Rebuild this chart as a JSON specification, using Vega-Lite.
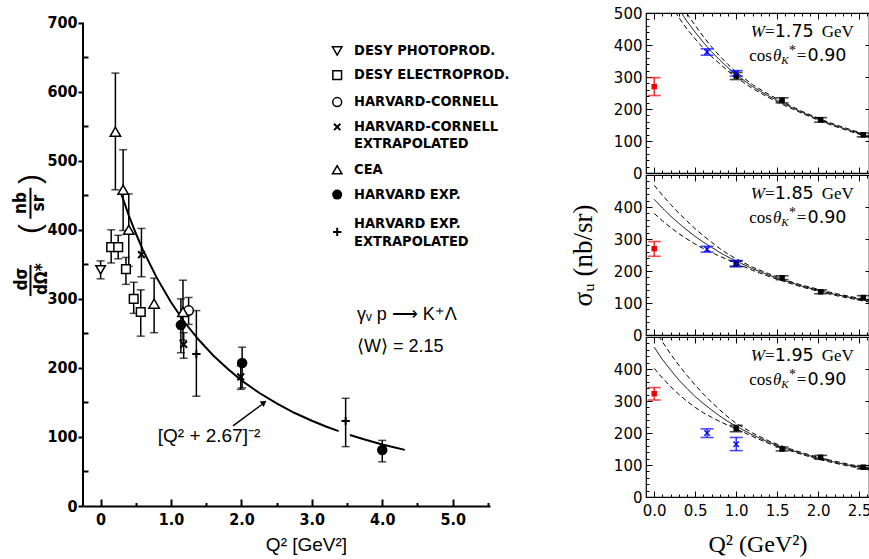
{
"$schema": "https://vega.github.io/schema/vega-lite/v6.json",
"background": "white",
"padding": {"left": 12, "top": 5, "right": 0, "bottom": 0},
"config": {
 "view": {"stroke": "black", "strokeWidth": 1.2},
 "axis": {"grid": false, "labelFlush": false, "labelOverlap": false, "domainColor": "black", "tickColor": "black", "labelColor": "black", "titleColor": "black"},
 "text": {"color": "black"}
},
"datasets": {
 "L": [
  {"s":"DP","q":0,"v":342,"lo":329,"hi":355},
  {"s":"DE","q":0.15,"v":375,"lo":352,"hi":400},
  {"s":"DE","q":0.25,"v":375,"lo":358,"hi":392},
  {"s":"DE","q":0.36,"v":343,"lo":321,"hi":360},
  {"s":"DE","q":0.47,"v":300,"lo":279,"hi":324},
  {"s":"DE","q":0.57,"v":281,"lo":246,"hi":313},
  {"s":"HC","q":1.25,"v":283,"lo":263,"hi":302},
  {"s":"HCX","q":0.58,"v":364,"lo":332,"hi":402},
  {"s":"HCX","q":1.18,"v":234,"lo":214,"hi":251},
  {"s":"HCX","q":1.99,"v":187,"lo":169,"hi":203},
  {"s":"CEA","q":0.21,"v":542,"lo":458,"hi":627},
  {"s":"CEA","q":0.32,"v":458,"lo":399,"hi":516},
  {"s":"CEA","q":0.40,"v":400,"lo":347,"hi":452},
  {"s":"CEA","q":0.76,"v":293,"lo":251,"hi":330},
  {"s":"CEA","q":1.17,"v":281,"lo":240,"hi":327},
  {"s":"HE","q":1.14,"v":262,"lo":222,"hi":300},
  {"s":"HE","q":2.01,"v":207,"lo":171,"hi":230},
  {"s":"HE","q":4.0,"v":81,"lo":64,"hi":95},
  {"s":"HEX","q":1.36,"v":220,"lo":159,"hi":283},
  {"s":"HEX","q":3.48,"v":123,"lo":86,"hi":156}
 ],
 "Lc": [
  {"seg":"a","q":0.28,"v":456},{"seg":"a","q":0.4,"v":421},{"seg":"a","q":0.5,"v":395},{"seg":"a","q":0.6,"v":371},
  {"seg":"a","q":0.8,"v":330},{"seg":"a","q":1.0,"v":295},{"seg":"a","q":1.2,"v":265},{"seg":"a","q":1.4,"v":240},
  {"seg":"a","q":1.6,"v":218},{"seg":"a","q":1.8,"v":199},{"seg":"a","q":2.0,"v":182},{"seg":"a","q":2.25,"v":164},
  {"seg":"a","q":2.5,"v":148.5},{"seg":"a","q":2.75,"v":135},{"seg":"a","q":3.0,"v":123.5},{"seg":"a","q":3.2,"v":115.2},
  {"seg":"a","q":3.38,"v":108.5},
  {"seg":"b","q":3.54,"v":102.9},{"seg":"b","q":3.75,"v":96.3},{"seg":"b","q":4.0,"v":89.2},{"seg":"b","q":4.15,"v":85.4},{"seg":"b","q":4.32,"v":81.3}
 ],
 "R1": [
  {"s":"r","q":0,"v":270,"lo":242,"hi":298},
  {"s":"k","q":1.0,"v":303,"lo":292,"hi":314},
  {"s":"k","q":1.56,"v":227,"lo":219,"hi":235},
  {"s":"k","q":2.03,"v":166,"lo":159,"hi":173},
  {"s":"k","q":2.55,"v":119,"lo":113,"hi":125},
  {"s":"b","q":0.645,"v":378,"lo":368,"hi":388},
  {"s":"b","q":1.0,"v":312,"lo":303,"hi":320}
 ],
 "R2": [
  {"s":"r","q":0,"v":270,"lo":246,"hi":292},
  {"s":"k","q":1.0,"v":223,"lo":215,"hi":231},
  {"s":"k","q":1.56,"v":179,"lo":173,"hi":185},
  {"s":"k","q":2.03,"v":135,"lo":129,"hi":141},
  {"s":"k","q":2.55,"v":117,"lo":111,"hi":123},
  {"s":"b","q":0.645,"v":268,"lo":259,"hi":277},
  {"s":"b","q":1.0,"v":223,"lo":213,"hi":233}
 ],
 "R3": [
  {"s":"r","q":0,"v":323,"lo":303,"hi":342},
  {"s":"k","q":1.0,"v":214,"lo":204,"hi":224},
  {"s":"k","q":1.56,"v":150,"lo":144,"hi":156},
  {"s":"k","q":2.03,"v":124,"lo":118,"hi":130},
  {"s":"k","q":2.55,"v":93,"lo":88,"hi":98},
  {"s":"b","q":0.645,"v":200,"lo":186,"hi":213},
  {"s":"b","q":1.0,"v":165,"lo":145,"hi":186}
 ],
 "C1": [
  {"k":"s","q":0.2,"v":555},{"k":"s","q":0.3,"v":513},{"k":"s","q":0.4,"v":474},{"k":"s","q":0.5,"v":440},{"k":"s","q":0.6,"v":408},{"k":"s","q":0.7,"v":379},{"k":"s","q":0.8,"v":353},{"k":"s","q":0.9,"v":329},{"k":"s","q":1.0,"v":307},{"k":"s","q":1.2,"v":270},{"k":"s","q":1.4,"v":240},{"k":"s","q":1.6,"v":214},{"k":"s","q":1.8,"v":190},{"k":"s","q":2.0,"v":168},{"k":"s","q":2.2,"v":149},{"k":"s","q":2.4,"v":132},{"k":"s","q":2.62,"v":115},
  {"k":"u","q":0.2,"v":585},{"k":"u","q":0.3,"v":540},{"k":"u","q":0.4,"v":498},{"k":"u","q":0.5,"v":461},{"k":"u","q":0.6,"v":426},{"k":"u","q":0.7,"v":394},{"k":"u","q":0.8,"v":365},{"k":"u","q":0.9,"v":339},{"k":"u","q":1.0,"v":315},{"k":"u","q":1.2,"v":276},{"k":"u","q":1.4,"v":245},{"k":"u","q":1.6,"v":218},{"k":"u","q":1.8,"v":193},{"k":"u","q":2.0,"v":171},{"k":"u","q":2.2,"v":152},{"k":"u","q":2.4,"v":135},{"k":"u","q":2.62,"v":118},
  {"k":"l","q":0.2,"v":525},{"k":"l","q":0.3,"v":486},{"k":"l","q":0.4,"v":450},{"k":"l","q":0.5,"v":419},{"k":"l","q":0.6,"v":390},{"k":"l","q":0.7,"v":364},{"k":"l","q":0.8,"v":341},{"k":"l","q":0.9,"v":319},{"k":"l","q":1.0,"v":299},{"k":"l","q":1.2,"v":264},{"k":"l","q":1.4,"v":235},{"k":"l","q":1.6,"v":210},{"k":"l","q":1.8,"v":187},{"k":"l","q":2.0,"v":165},{"k":"l","q":2.2,"v":146},{"k":"l","q":2.4,"v":129},{"k":"l","q":2.62,"v":112}
 ],
 "C2": [
  {"k":"s","q":0,"v":424},{"k":"s","q":0.1,"v":397},{"k":"s","q":0.2,"v":372},{"k":"s","q":0.3,"v":349},{"k":"s","q":0.4,"v":328},{"k":"s","q":0.5,"v":308},{"k":"s","q":0.6,"v":290},{"k":"s","q":0.7,"v":274},{"k":"s","q":0.8,"v":258},{"k":"s","q":0.9,"v":244},{"k":"s","q":1.0,"v":231},{"k":"s","q":1.2,"v":207},{"k":"s","q":1.4,"v":187},{"k":"s","q":1.6,"v":169},{"k":"s","q":1.8,"v":153},{"k":"s","q":2.0,"v":140},{"k":"s","q":2.2,"v":127},{"k":"s","q":2.4,"v":117},{"k":"s","q":2.62,"v":106},
  {"k":"u","q":0,"v":468},{"k":"u","q":0.1,"v":437},{"k":"u","q":0.2,"v":408},{"k":"u","q":0.3,"v":381},{"k":"u","q":0.4,"v":356},{"k":"u","q":0.5,"v":332},{"k":"u","q":0.6,"v":310},{"k":"u","q":0.7,"v":290},{"k":"u","q":0.8,"v":270},{"k":"u","q":0.9,"v":253},{"k":"u","q":1.0,"v":238},{"k":"u","q":1.2,"v":212},{"k":"u","q":1.4,"v":191},{"k":"u","q":1.6,"v":172},{"k":"u","q":1.8,"v":156},{"k":"u","q":2.0,"v":143},{"k":"u","q":2.2,"v":130},{"k":"u","q":2.4,"v":120},{"k":"u","q":2.62,"v":109},
  {"k":"l","q":0,"v":380},{"k":"l","q":0.1,"v":357},{"k":"l","q":0.2,"v":336},{"k":"l","q":0.3,"v":317},{"k":"l","q":0.4,"v":300},{"k":"l","q":0.5,"v":284},{"k":"l","q":0.6,"v":270},{"k":"l","q":0.7,"v":258},{"k":"l","q":0.8,"v":246},{"k":"l","q":0.9,"v":235},{"k":"l","q":1.0,"v":224},{"k":"l","q":1.2,"v":202},{"k":"l","q":1.4,"v":183},{"k":"l","q":1.6,"v":166},{"k":"l","q":1.8,"v":150},{"k":"l","q":2.0,"v":137},{"k":"l","q":2.2,"v":124},{"k":"l","q":2.4,"v":114},{"k":"l","q":2.62,"v":103}
 ],
 "C3": [
  {"k":"s","q":0,"v":468},{"k":"s","q":0.1,"v":430},{"k":"s","q":0.2,"v":397},{"k":"s","q":0.3,"v":366},{"k":"s","q":0.4,"v":339},{"k":"s","q":0.5,"v":314},{"k":"s","q":0.6,"v":292},{"k":"s","q":0.7,"v":272},{"k":"s","q":0.8,"v":253},{"k":"s","q":0.9,"v":236},{"k":"s","q":1.0,"v":221},{"k":"s","q":1.2,"v":194},{"k":"s","q":1.4,"v":171},{"k":"s","q":1.6,"v":152},{"k":"s","q":1.8,"v":136},{"k":"s","q":2.0,"v":121},{"k":"s","q":2.2,"v":109},{"k":"s","q":2.4,"v":98},{"k":"s","q":2.62,"v":88},
  {"k":"u","q":0,"v":525},{"k":"u","q":0.1,"v":485},{"k":"u","q":0.2,"v":447},{"k":"u","q":0.3,"v":412},{"k":"u","q":0.4,"v":380},{"k":"u","q":0.5,"v":350},{"k":"u","q":0.6,"v":322},{"k":"u","q":0.7,"v":296},{"k":"u","q":0.8,"v":272},{"k":"u","q":0.9,"v":250},{"k":"u","q":1.0,"v":230},{"k":"u","q":1.2,"v":200},{"k":"u","q":1.4,"v":175},{"k":"u","q":1.6,"v":155},{"k":"u","q":1.8,"v":139},{"k":"u","q":2.0,"v":124},{"k":"u","q":2.2,"v":112},{"k":"u","q":2.4,"v":101},{"k":"u","q":2.62,"v":91},
  {"k":"l","q":0,"v":402},{"k":"l","q":0.1,"v":372},{"k":"l","q":0.2,"v":345},{"k":"l","q":0.3,"v":321},{"k":"l","q":0.4,"v":299},{"k":"l","q":0.5,"v":280},{"k":"l","q":0.6,"v":263},{"k":"l","q":0.7,"v":249},{"k":"l","q":0.8,"v":236},{"k":"l","q":0.9,"v":224},{"k":"l","q":1.0,"v":213},{"k":"l","q":1.2,"v":189},{"k":"l","q":1.4,"v":167},{"k":"l","q":1.6,"v":149},{"k":"l","q":1.8,"v":133},{"k":"l","q":2.0,"v":118},{"k":"l","q":2.2,"v":106},{"k":"l","q":2.4,"v":95},{"k":"l","q":2.62,"v":85}
 ]
},
"columns": 2,
"align": "none",
"spacing": 58,
"concat": [
 {
  "width": 407, "height": 493,
  "data": {"values": [{}]},
  "view": {"stroke": null},
  "resolve": {"axis": {"x": "independent", "y": "independent"}},
  "layer": [
   {"data": {"name": "Lc"},
    "mark": {"type": "line", "color": "black", "strokeWidth": 2},
    "encoding": {
     "x": {"field": "q", "type": "quantitative", "scale": {"domain": [-0.25, 5.53], "nice": false, "zero": false},
       "axis": {"orient": "bottom", "values": [0,1,2,3,4,5], "labelExpr": "datum.value == 0 ? '0' : format(datum.value, '.1f')",
        "tickSize": -7, "tickWidth": 2, "domainWidth": 2, "labelPadding": 12,
        "labelFont": "Liberation Sans Narrow, DejaVu Sans Condensed, sans-serif", "labelFontSize": 16, "labelFontWeight": "bold",
        "title": "Q² [GeV²]", "titleFont": "Liberation Sans", "titleFontSize": 19, "titleFontWeight": "normal", "titleX": 223, "titlePadding": 8}},
     "y": {"field": "v", "type": "quantitative", "scale": {"domain": [0, 714], "nice": false, "zero": false},
       "axis": {"orient": "left", "values": [0,100,200,300,400,500,600,700], "tickSize": 5, "tickWidth": 2, "domain": false, "labelPadding": 1,
        "labelFont": "Liberation Sans Narrow, DejaVu Sans Condensed, sans-serif", "labelFontSize": 16, "labelFontWeight": "bold", "title": null}},
     "detail": {"field": "seg", "type": "nominal"}
    }},
   {"data": {"name": "L"},
    "mark": {"type": "rule", "color": "black", "strokeWidth": 1.5},
    "encoding": {
     "x": {"field": "q", "type": "quantitative", "axis": {"orient": "bottom", "values": [0.5,1.5,2.5,3.5,4.5,5.5], "tickSize": -3.5, "tickWidth": 2, "labels": false, "domain": false, "title": null}},
     "y": {"field": "lo", "type": "quantitative", "axis": {"orient": "left", "values": [50,150,250,350,450,550,650], "tickSize": -5, "tickWidth": 2, "labels": false, "domain": false, "title": null}},
     "y2": {"field": "hi"}
    }},
   {"mark": {"type": "rule", "color": "black", "strokeWidth": 2},
    "encoding": {"x": {"datum": -0.25, "type": "quantitative", "axis": null}, "y": {"datum": 0, "type": "quantitative", "axis": null}, "y2": {"datum": 700}}},
   {"data": {"name": "L"},
    "mark": {"type": "tick", "orient": "horizontal", "size": 8, "thickness": 1.5, "color": "black"},
    "encoding": {"x": {"field": "q", "type": "quantitative", "axis": null}, "y": {"field": "lo", "type": "quantitative", "axis": null}}},
   {"data": {"name": "L"},
    "mark": {"type": "tick", "orient": "horizontal", "size": 8, "thickness": 1.5, "color": "black"},
    "encoding": {"x": {"field": "q", "type": "quantitative", "axis": null}, "y": {"field": "hi", "type": "quantitative", "axis": null}}},
   {"data": {"name": "L"}, "transform": [{"filter": "datum.s == 'DP'"}],
    "mark": {"type": "point", "shape": "triangle-down", "size": 90, "filled": true, "fill": "white", "stroke": "black", "strokeWidth": 1.5, "opacity": 1},
    "encoding": {"x": {"field": "q", "type": "quantitative", "axis": null}, "y": {"field": "v", "type": "quantitative", "axis": null}}},
   {"data": {"name": "L"}, "transform": [{"filter": "datum.s == 'DE'"}],
    "mark": {"type": "point", "shape": "square", "size": 75, "filled": true, "fill": "white", "stroke": "black", "strokeWidth": 1.5, "opacity": 1},
    "encoding": {"x": {"field": "q", "type": "quantitative", "axis": null}, "y": {"field": "v", "type": "quantitative", "axis": null}}},
   {"data": {"name": "L"}, "transform": [{"filter": "datum.s == 'HC'"}],
    "mark": {"type": "point", "shape": "circle", "size": 90, "filled": true, "fill": "white", "stroke": "black", "strokeWidth": 1.5, "opacity": 1},
    "encoding": {"x": {"field": "q", "type": "quantitative", "axis": null}, "y": {"field": "v", "type": "quantitative", "axis": null}}},
   {"data": {"name": "L"}, "transform": [{"filter": "datum.s == 'CEA'"}],
    "mark": {"type": "point", "shape": "triangle-up", "size": 110, "filled": true, "fill": "white", "stroke": "black", "strokeWidth": 1.5, "opacity": 1},
    "encoding": {"x": {"field": "q", "type": "quantitative", "axis": null}, "y": {"field": "v", "type": "quantitative", "axis": null}}},
   {"data": {"name": "L"}, "transform": [{"filter": "datum.s == 'HCX'"}],
    "mark": {"type": "point", "shape": "M-1,-1L1,1M-1,1L1,-1", "size": 45, "filled": false, "color": "black", "strokeWidth": 2, "opacity": 1},
    "encoding": {"x": {"field": "q", "type": "quantitative", "axis": null}, "y": {"field": "v", "type": "quantitative", "axis": null}}},
   {"data": {"name": "L"}, "transform": [{"filter": "datum.s == 'HE'"}],
    "mark": {"type": "point", "shape": "circle", "size": 110, "filled": true, "color": "black", "opacity": 1},
    "encoding": {"x": {"field": "q", "type": "quantitative", "axis": null}, "y": {"field": "v", "type": "quantitative", "axis": null}}},
   {"data": {"name": "L"}, "transform": [{"filter": "datum.s == 'HEX'"}],
    "mark": {"type": "point", "shape": "M-1,0L1,0M0,-1L0,1", "size": 70, "filled": false, "color": "black", "strokeWidth": 2, "opacity": 1},
    "encoding": {"x": {"field": "q", "type": "quantitative", "axis": null}, "y": {"field": "v", "type": "quantitative", "axis": null}}},

   {"mark": {"type": "point", "shape": "triangle-down", "size": 90, "filled": true, "fill": "white", "stroke": "black", "strokeWidth": 1.5, "opacity": 1},
    "encoding": {"x": {"datum": 3.36, "type": "quantitative", "axis": null}, "y": {"datum": 659, "type": "quantitative", "axis": null}}},
   {"mark": {"type": "point", "shape": "square", "size": 75, "filled": true, "fill": "white", "stroke": "black", "strokeWidth": 1.5, "opacity": 1},
    "encoding": {"x": {"datum": 3.36, "type": "quantitative", "axis": null}, "y": {"datum": 624, "type": "quantitative", "axis": null}}},
   {"mark": {"type": "point", "shape": "circle", "size": 80, "filled": true, "fill": "white", "stroke": "black", "strokeWidth": 1.5, "opacity": 1},
    "encoding": {"x": {"datum": 3.36, "type": "quantitative", "axis": null}, "y": {"datum": 585, "type": "quantitative", "axis": null}}},
   {"mark": {"type": "point", "shape": "M-1,-1L1,1M-1,1L1,-1", "size": 40, "filled": false, "color": "black", "strokeWidth": 2, "opacity": 1},
    "encoding": {"x": {"datum": 3.36, "type": "quantitative", "axis": null}, "y": {"datum": 549, "type": "quantitative", "axis": null}}},
   {"mark": {"type": "point", "shape": "triangle-up", "size": 90, "filled": true, "fill": "white", "stroke": "black", "strokeWidth": 1.5, "opacity": 1},
    "encoding": {"x": {"datum": 3.36, "type": "quantitative", "axis": null}, "y": {"datum": 487, "type": "quantitative", "axis": null}}},
   {"mark": {"type": "point", "shape": "circle", "size": 100, "filled": true, "color": "black", "opacity": 1},
    "encoding": {"x": {"datum": 3.36, "type": "quantitative", "axis": null}, "y": {"datum": 451, "type": "quantitative", "axis": null}}},
   {"mark": {"type": "point", "shape": "M-1,0L1,0M0,-1L0,1", "size": 70, "filled": false, "color": "black", "strokeWidth": 2, "opacity": 1},
    "encoding": {"x": {"datum": 3.36, "type": "quantitative", "axis": null}, "y": {"datum": 397, "type": "quantitative", "axis": null}}},

   {"mark": {"type": "text", "align": "left", "baseline": "middle", "font": "Liberation Sans Narrow, DejaVu Sans Condensed, sans-serif", "fontSize": 14.5, "fontWeight": "bold"},
    "encoding": {"x": {"datum": 3.6, "type": "quantitative", "axis": null}, "y": {"datum": 659, "type": "quantitative", "axis": null}, "text": {"value": "DESY PHOTOPROD."}}},
   {"mark": {"type": "text", "align": "left", "baseline": "middle", "font": "Liberation Sans Narrow, DejaVu Sans Condensed, sans-serif", "fontSize": 14.5, "fontWeight": "bold"},
    "encoding": {"x": {"datum": 3.6, "type": "quantitative", "axis": null}, "y": {"datum": 624, "type": "quantitative", "axis": null}, "text": {"value": "DESY ELECTROPROD."}}},
   {"mark": {"type": "text", "align": "left", "baseline": "middle", "font": "Liberation Sans Narrow, DejaVu Sans Condensed, sans-serif", "fontSize": 14.5, "fontWeight": "bold"},
    "encoding": {"x": {"datum": 3.6, "type": "quantitative", "axis": null}, "y": {"datum": 585, "type": "quantitative", "axis": null}, "text": {"value": "HARVARD-CORNELL"}}},
   {"mark": {"type": "text", "align": "left", "baseline": "middle", "font": "Liberation Sans Narrow, DejaVu Sans Condensed, sans-serif", "fontSize": 14.5, "fontWeight": "bold"},
    "encoding": {"x": {"datum": 3.6, "type": "quantitative", "axis": null}, "y": {"datum": 549, "type": "quantitative", "axis": null}, "text": {"value": "HARVARD-CORNELL"}}},
   {"mark": {"type": "text", "align": "left", "baseline": "middle", "font": "Liberation Sans Narrow, DejaVu Sans Condensed, sans-serif", "fontSize": 14.5, "fontWeight": "bold"},
    "encoding": {"x": {"datum": 3.6, "type": "quantitative", "axis": null}, "y": {"datum": 525, "type": "quantitative", "axis": null}, "text": {"value": "EXTRAPOLATED"}}},
   {"mark": {"type": "text", "align": "left", "baseline": "middle", "font": "Liberation Sans Narrow, DejaVu Sans Condensed, sans-serif", "fontSize": 14.5, "fontWeight": "bold"},
    "encoding": {"x": {"datum": 3.6, "type": "quantitative", "axis": null}, "y": {"datum": 487, "type": "quantitative", "axis": null}, "text": {"value": "CEA"}}},
   {"mark": {"type": "text", "align": "left", "baseline": "middle", "font": "Liberation Sans Narrow, DejaVu Sans Condensed, sans-serif", "fontSize": 14.5, "fontWeight": "bold"},
    "encoding": {"x": {"datum": 3.6, "type": "quantitative", "axis": null}, "y": {"datum": 451, "type": "quantitative", "axis": null}, "text": {"value": "HARVARD EXP."}}},
   {"mark": {"type": "text", "align": "left", "baseline": "middle", "font": "Liberation Sans Narrow, DejaVu Sans Condensed, sans-serif", "fontSize": 14.5, "fontWeight": "bold"},
    "encoding": {"x": {"datum": 3.6, "type": "quantitative", "axis": null}, "y": {"datum": 409, "type": "quantitative", "axis": null}, "text": {"value": "HARVARD EXP."}}},
   {"mark": {"type": "text", "align": "left", "baseline": "middle", "font": "Liberation Sans Narrow, DejaVu Sans Condensed, sans-serif", "fontSize": 14.5, "fontWeight": "bold"},
    "encoding": {"x": {"datum": 3.6, "type": "quantitative", "axis": null}, "y": {"datum": 383, "type": "quantitative", "axis": null}, "text": {"value": "EXTRAPOLATED"}}},

   {"mark": {"type": "text", "align": "left", "baseline": "middle", "font": "Liberation Sans", "fontSize": 18},
    "encoding": {"x": {"datum": 3.64, "type": "quantitative", "axis": null}, "y": {"datum": 276, "type": "quantitative", "axis": null}, "text": {"value": "γᵥ p ⟶ K⁺Λ"}}},
   {"mark": {"type": "text", "align": "left", "baseline": "middle", "font": "Liberation Sans", "fontSize": 18},
    "encoding": {"x": {"datum": 3.64, "type": "quantitative", "axis": null}, "y": {"datum": 231, "type": "quantitative", "axis": null}, "text": {"value": "⟨W⟩ = 2.15"}}},
   {"mark": {"type": "text", "align": "center", "baseline": "middle", "font": "Liberation Sans", "fontSize": 19},
    "encoding": {"x": {"datum": 1.54, "type": "quantitative", "axis": null}, "y": {"datum": 101, "type": "quantitative", "axis": null}, "text": {"value": "[Q² + 2.67]⁻²"}}},
   {"mark": {"type": "rule", "color": "black", "strokeWidth": 1.5},
    "encoding": {"x": {"datum": 1.88, "type": "quantitative", "axis": null}, "y": {"datum": 116, "type": "quantitative", "axis": null}, "x2": {"datum": 2.29}, "y2": {"datum": 147}}},
   {"mark": {"type": "point", "shape": "triangle", "size": 45, "filled": true, "color": "black", "angle": 54, "opacity": 1},
    "encoding": {"x": {"datum": 2.31, "type": "quantitative", "axis": null}, "y": {"datum": 149, "type": "quantitative", "axis": null}}},

   {"mark": {"type": "text", "align": "center", "baseline": "middle", "angle": 270, "font": "Liberation Sans Narrow, DejaVu Sans Condensed, sans-serif", "fontSize": 17, "fontWeight": "bold"},
    "encoding": {"x": {"datum": -1.121, "type": "quantitative", "axis": null}, "y": {"datum": 328.6, "type": "quantitative", "axis": null}, "text": {"value": "dσ"}}},
   {"mark": {"type": "text", "align": "center", "baseline": "middle", "angle": 270, "font": "Liberation Sans Narrow, DejaVu Sans Condensed, sans-serif", "fontSize": 17, "fontWeight": "bold"},
    "encoding": {"x": {"datum": -0.83, "type": "quantitative", "axis": null}, "y": {"datum": 328.6, "type": "quantitative", "axis": null}, "text": {"value": "dΩ*"}}},
   {"mark": {"type": "rule", "color": "black", "strokeWidth": 2},
    "encoding": {"x": {"datum": -0.996, "type": "quantitative", "axis": null}, "y": {"datum": 349, "type": "quantitative", "axis": null}, "y2": {"datum": 304}}},
   {"mark": {"type": "text", "align": "center", "baseline": "middle", "angle": 270, "font": "Liberation Sans Narrow, DejaVu Sans Condensed, sans-serif", "fontSize": 17, "fontWeight": "bold"},
    "encoding": {"x": {"datum": -1.128, "type": "quantitative", "axis": null}, "y": {"datum": 438.7, "type": "quantitative", "axis": null}, "text": {"value": "nb"}}},
   {"mark": {"type": "text", "align": "center", "baseline": "middle", "angle": 270, "font": "Liberation Sans Narrow, DejaVu Sans Condensed, sans-serif", "fontSize": 17, "fontWeight": "bold"},
    "encoding": {"x": {"datum": -0.872, "type": "quantitative", "axis": null}, "y": {"datum": 438.7, "type": "quantitative", "axis": null}, "text": {"value": "sr"}}},
   {"mark": {"type": "rule", "color": "black", "strokeWidth": 2},
    "encoding": {"x": {"datum": -0.996, "type": "quantitative", "axis": null}, "y": {"datum": 461, "type": "quantitative", "axis": null}, "y2": {"datum": 416}}},
   {"mark": {"type": "text", "align": "center", "baseline": "middle", "angle": 270, "font": "Liberation Sans", "fontSize": 30},
    "encoding": {"x": {"datum": -0.986, "type": "quantitative", "axis": null}, "y": {"datum": 401, "type": "quantitative", "axis": null}, "text": {"value": "("}}},
   {"mark": {"type": "text", "align": "center", "baseline": "middle", "angle": 270, "font": "Liberation Sans", "fontSize": 30},
    "encoding": {"x": {"datum": -0.986, "type": "quantitative", "axis": null}, "y": {"datum": 473.5, "type": "quantitative", "axis": null}, "text": {"value": ")"}}}
  ]
 },
 {
  "vconcat": [
   {
    "width": 223, "height": 160,
    "data": {"values": [{}]},
    "resolve": {"axis": {"x": "independent", "y": "independent"}},
    "layer": [
     {"data": {"name": "C1"}, "mark": {"type": "line", "clip": true, "color": "black", "strokeWidth": 1},
      "encoding": {
       "x": {"field": "q", "type": "quantitative", "scale": {"domain": [-0.1, 2.62], "nice": false, "zero": false}, "axis": {"orient": "bottom", "values": [0,0.5,1,1.5,2,2.5], "tickSize": -6, "tickWidth": 1, "labels": false, "domain": false, "title": null}},
       "y": {"field": "v", "type": "quantitative", "scale": {"domain": [0, 500], "nice": false, "zero": false}, "axis": {"orient": "left", "values": [0,100,200,300,400,500], "tickSize": -6, "tickWidth": 1, "labelPadding": 10, "labelFont": "DejaVu Sans", "labelFontSize": 15, "domain": false, "title": null}},
       "detail": {"field": "k", "type": "nominal"},
       "strokeDash": {"field": "k", "type": "nominal", "scale": {"domain": ["s","u","l"], "range": [[1,0],[5,3],[5,3]]}, "legend": null}}},
     {"data": {"name": "R1"}, "mark": {"type": "rule", "strokeWidth": 1.2},
      "encoding": {
       "x": {"field": "q", "type": "quantitative", "axis": {"orient": "bottom", "values": [0.1,0.2,0.3,0.4,0.6,0.7,0.8,0.9,1.1,1.2,1.3,1.4,1.6,1.7,1.8,1.9,2.1,2.2,2.3,2.4,2.6], "tickSize": -3, "tickWidth": 1, "labels": false, "domain": false, "title": null}},
       "y": {"field": "lo", "type": "quantitative", "axis": {"orient": "left", "values": [20,40,60,80,120,140,160,180,220,240,260,280,320,340,360,380,420,440,460,480], "tickSize": -3, "tickWidth": 1, "labels": false, "domain": false, "title": null}},
       "y2": {"field": "hi"},
       "color": {"field": "s", "type": "nominal", "scale": {"domain": ["r","b","k"], "range": ["#ee0000","#0000ff","#000000"]}, "legend": null}}},
     {"data": {"name": "R1"}, "mark": {"type": "tick", "orient": "horizontal", "size": 13, "thickness": 1.6},
      "encoding": {
       "x": {"field": "q", "type": "quantitative", "axis": {"orient": "top", "values": [0,0.5,1,1.5,2,2.5], "tickSize": -6, "tickWidth": 1, "labels": false, "domain": false, "title": null}},
       "y": {"field": "lo", "type": "quantitative", "axis": {"orient": "right", "values": [100,200,300,400], "tickSize": -4, "tickWidth": 1, "labels": false, "domain": false, "title": null}},
       "color": {"field": "s", "type": "nominal", "legend": null}}},
     {"data": {"name": "R1"}, "mark": {"type": "tick", "orient": "horizontal", "size": 13, "thickness": 1.6},
      "encoding": {
       "x": {"field": "q", "type": "quantitative", "axis": {"orient": "top", "values": [0.1,0.2,0.3,0.4,0.6,0.7,0.8,0.9,1.1,1.2,1.3,1.4,1.6,1.7,1.8,1.9,2.1,2.2,2.3,2.4,2.6], "tickSize": -3, "tickWidth": 1, "labels": false, "domain": false, "title": null}},
       "y": {"field": "hi", "type": "quantitative", "axis": null},
       "color": {"field": "s", "type": "nominal", "legend": null}}},
     {"data": {"name": "R1"}, "transform": [{"filter": "datum.s != 'b'"}], "mark": {"type": "square", "size": 30, "opacity": 1},
      "encoding": {"x": {"field": "q", "type": "quantitative", "axis": null}, "y": {"field": "v", "type": "quantitative", "axis": null}, "color": {"field": "s", "type": "nominal", "legend": null}}},
     {"data": {"name": "R1"}, "transform": [{"filter": "datum.s == 'b'"}], "mark": {"type": "point", "shape": "M-1,-1L1,1M-1,1L1,-1", "filled": false, "size": 30, "strokeWidth": 1.3, "opacity": 1},
      "encoding": {"x": {"field": "q", "type": "quantitative", "axis": null}, "y": {"field": "v", "type": "quantitative", "axis": null}, "color": {"field": "s", "type": "nominal", "legend": null}}},
     {"mark": {"type": "text", "align": "left", "baseline": "alphabetic", "font": "Liberation Serif", "fontSize": 17, "fontStyle": "italic"},
      "encoding": {"x": {"datum": 1.179, "type": "quantitative", "axis": null}, "y": {"datum": 424, "type": "quantitative", "axis": null}, "text": {"value": "W"}}},
     {"mark": {"type": "text", "align": "left", "baseline": "alphabetic", "font": "Liberation Serif", "fontSize": 17},
      "encoding": {"x": {"datum": 1.35, "type": "quantitative", "axis": null}, "y": {"datum": 424, "type": "quantitative", "axis": null}, "text": {"value": "="}}},
     {"mark": {"type": "text", "align": "left", "baseline": "alphabetic", "font": "DejaVu Sans", "fontSize": 17.5},
      "encoding": {"x": {"datum": 1.47, "type": "quantitative", "axis": null}, "y": {"datum": 424, "type": "quantitative", "axis": null}, "text": {"value": "1.75"}}},
     {"mark": {"type": "text", "align": "right", "baseline": "alphabetic", "font": "Liberation Serif", "fontSize": 17},
      "encoding": {"x": {"datum": 2.435, "type": "quantitative", "axis": null}, "y": {"datum": 424, "type": "quantitative", "axis": null}, "text": {"value": "GeV"}}},
     {"mark": {"type": "text", "align": "left", "baseline": "alphabetic", "font": "Liberation Serif", "fontSize": 17},
      "encoding": {"x": {"datum": 1.159, "type": "quantitative", "axis": null}, "y": {"datum": 351, "type": "quantitative", "axis": null}, "text": {"value": "cos"}}},
     {"mark": {"type": "text", "align": "left", "baseline": "alphabetic", "font": "Liberation Serif", "fontSize": 17, "fontStyle": "italic"},
      "encoding": {"x": {"datum": 1.45, "type": "quantitative", "axis": null}, "y": {"datum": 351, "type": "quantitative", "axis": null}, "text": {"value": "θ"}}},
     {"mark": {"type": "text", "align": "left", "baseline": "alphabetic", "font": "Liberation Serif", "fontSize": 11, "fontStyle": "italic"},
      "encoding": {"x": {"datum": 1.55, "type": "quantitative", "axis": null}, "y": {"datum": 340, "type": "quantitative", "axis": null}, "text": {"value": "K"}}},
     {"mark": {"type": "text", "align": "left", "baseline": "alphabetic", "font": "Liberation Serif", "fontSize": 14},
      "encoding": {"x": {"datum": 1.645, "type": "quantitative", "axis": null}, "y": {"datum": 368, "type": "quantitative", "axis": null}, "text": {"value": "*"}}},
     {"mark": {"type": "text", "align": "left", "baseline": "alphabetic", "font": "Liberation Serif", "fontSize": 17},
      "encoding": {"x": {"datum": 1.74, "type": "quantitative", "axis": null}, "y": {"datum": 351, "type": "quantitative", "axis": null}, "text": {"value": "="}}},
     {"mark": {"type": "text", "align": "left", "baseline": "alphabetic", "font": "DejaVu Sans", "fontSize": 17.5},
      "encoding": {"x": {"datum": 1.87, "type": "quantitative", "axis": null}, "y": {"datum": 351, "type": "quantitative", "axis": null}, "text": {"value": "0.90"}}}
    ]
   },
   {
    "width": 223, "height": 160,
    "data": {"values": [{}]},
    "resolve": {"axis": {"x": "independent", "y": "independent"}},
    "layer": [
     {"data": {"name": "C2"}, "mark": {"type": "line", "clip": true, "color": "black", "strokeWidth": 1},
      "encoding": {
       "x": {"field": "q", "type": "quantitative", "scale": {"domain": [-0.1, 2.62], "nice": false, "zero": false}, "axis": {"orient": "bottom", "values": [0,0.5,1,1.5,2,2.5], "tickSize": -6, "tickWidth": 1, "labels": false, "domain": false, "title": null}},
       "y": {"field": "v", "type": "quantitative", "scale": {"domain": [0, 500], "nice": false, "zero": false}, "axis": {"orient": "left", "values": [0,100,200,300,400], "tickSize": -6, "tickWidth": 1, "labelPadding": 10, "labelFont": "DejaVu Sans", "labelFontSize": 15, "domain": false, "title": "σᵤ (nb/sr)", "titleFont": "Liberation Serif", "titleFontSize": 27, "titleFontWeight": "normal", "titlePadding": 16}},
       "detail": {"field": "k", "type": "nominal"},
       "strokeDash": {"field": "k", "type": "nominal", "scale": {"domain": ["s","u","l"], "range": [[1,0],[5,3],[5,3]]}, "legend": null}}},
     {"data": {"name": "R2"}, "mark": {"type": "rule", "strokeWidth": 1.2},
      "encoding": {
       "x": {"field": "q", "type": "quantitative", "axis": {"orient": "bottom", "values": [0.1,0.2,0.3,0.4,0.6,0.7,0.8,0.9,1.1,1.2,1.3,1.4,1.6,1.7,1.8,1.9,2.1,2.2,2.3,2.4,2.6], "tickSize": -3, "tickWidth": 1, "labels": false, "domain": false, "title": null}},
       "y": {"field": "lo", "type": "quantitative", "axis": {"orient": "left", "values": [20,40,60,80,120,140,160,180,220,240,260,280,320,340,360,380,420,440,460,480], "tickSize": -3, "tickWidth": 1, "labels": false, "domain": false, "title": null}},
       "y2": {"field": "hi"},
       "color": {"field": "s", "type": "nominal", "scale": {"domain": ["r","b","k"], "range": ["#ee0000","#0000ff","#000000"]}, "legend": null}}},
     {"data": {"name": "R2"}, "mark": {"type": "tick", "orient": "horizontal", "size": 13, "thickness": 1.6},
      "encoding": {
       "x": {"field": "q", "type": "quantitative", "axis": {"orient": "top", "values": [0,0.5,1,1.5,2,2.5], "tickSize": -6, "tickWidth": 1, "labels": false, "domain": false, "title": null}},
       "y": {"field": "lo", "type": "quantitative", "axis": {"orient": "right", "values": [100,200,300,400], "tickSize": -4, "tickWidth": 1, "labels": false, "domain": false, "title": null}},
       "color": {"field": "s", "type": "nominal", "legend": null}}},
     {"data": {"name": "R2"}, "mark": {"type": "tick", "orient": "horizontal", "size": 13, "thickness": 1.6},
      "encoding": {
       "x": {"field": "q", "type": "quantitative", "axis": {"orient": "top", "values": [0.1,0.2,0.3,0.4,0.6,0.7,0.8,0.9,1.1,1.2,1.3,1.4,1.6,1.7,1.8,1.9,2.1,2.2,2.3,2.4,2.6], "tickSize": -3, "tickWidth": 1, "labels": false, "domain": false, "title": null}},
       "y": {"field": "hi", "type": "quantitative", "axis": null},
       "color": {"field": "s", "type": "nominal", "legend": null}}},
     {"data": {"name": "R2"}, "transform": [{"filter": "datum.s != 'b'"}], "mark": {"type": "square", "size": 30, "opacity": 1},
      "encoding": {"x": {"field": "q", "type": "quantitative", "axis": null}, "y": {"field": "v", "type": "quantitative", "axis": null}, "color": {"field": "s", "type": "nominal", "legend": null}}},
     {"data": {"name": "R2"}, "transform": [{"filter": "datum.s == 'b'"}], "mark": {"type": "point", "shape": "M-1,-1L1,1M-1,1L1,-1", "filled": false, "size": 30, "strokeWidth": 1.3, "opacity": 1},
      "encoding": {"x": {"field": "q", "type": "quantitative", "axis": null}, "y": {"field": "v", "type": "quantitative", "axis": null}, "color": {"field": "s", "type": "nominal", "legend": null}}},
     {"mark": {"type": "text", "align": "left", "baseline": "alphabetic", "font": "Liberation Serif", "fontSize": 17, "fontStyle": "italic"},
      "encoding": {"x": {"datum": 1.179, "type": "quantitative", "axis": null}, "y": {"datum": 424, "type": "quantitative", "axis": null}, "text": {"value": "W"}}},
     {"mark": {"type": "text", "align": "left", "baseline": "alphabetic", "font": "Liberation Serif", "fontSize": 17},
      "encoding": {"x": {"datum": 1.35, "type": "quantitative", "axis": null}, "y": {"datum": 424, "type": "quantitative", "axis": null}, "text": {"value": "="}}},
     {"mark": {"type": "text", "align": "left", "baseline": "alphabetic", "font": "DejaVu Sans", "fontSize": 17.5},
      "encoding": {"x": {"datum": 1.47, "type": "quantitative", "axis": null}, "y": {"datum": 424, "type": "quantitative", "axis": null}, "text": {"value": "1.85"}}},
     {"mark": {"type": "text", "align": "right", "baseline": "alphabetic", "font": "Liberation Serif", "fontSize": 17},
      "encoding": {"x": {"datum": 2.435, "type": "quantitative", "axis": null}, "y": {"datum": 424, "type": "quantitative", "axis": null}, "text": {"value": "GeV"}}},
     {"mark": {"type": "text", "align": "left", "baseline": "alphabetic", "font": "Liberation Serif", "fontSize": 17},
      "encoding": {"x": {"datum": 1.159, "type": "quantitative", "axis": null}, "y": {"datum": 351, "type": "quantitative", "axis": null}, "text": {"value": "cos"}}},
     {"mark": {"type": "text", "align": "left", "baseline": "alphabetic", "font": "Liberation Serif", "fontSize": 17, "fontStyle": "italic"},
      "encoding": {"x": {"datum": 1.45, "type": "quantitative", "axis": null}, "y": {"datum": 351, "type": "quantitative", "axis": null}, "text": {"value": "θ"}}},
     {"mark": {"type": "text", "align": "left", "baseline": "alphabetic", "font": "Liberation Serif", "fontSize": 11, "fontStyle": "italic"},
      "encoding": {"x": {"datum": 1.55, "type": "quantitative", "axis": null}, "y": {"datum": 340, "type": "quantitative", "axis": null}, "text": {"value": "K"}}},
     {"mark": {"type": "text", "align": "left", "baseline": "alphabetic", "font": "Liberation Serif", "fontSize": 14},
      "encoding": {"x": {"datum": 1.645, "type": "quantitative", "axis": null}, "y": {"datum": 368, "type": "quantitative", "axis": null}, "text": {"value": "*"}}},
     {"mark": {"type": "text", "align": "left", "baseline": "alphabetic", "font": "Liberation Serif", "fontSize": 17},
      "encoding": {"x": {"datum": 1.74, "type": "quantitative", "axis": null}, "y": {"datum": 351, "type": "quantitative", "axis": null}, "text": {"value": "="}}},
     {"mark": {"type": "text", "align": "left", "baseline": "alphabetic", "font": "DejaVu Sans", "fontSize": 17.5},
      "encoding": {"x": {"datum": 1.87, "type": "quantitative", "axis": null}, "y": {"datum": 351, "type": "quantitative", "axis": null}, "text": {"value": "0.90"}}}
    ]
   },
   {
    "width": 223, "height": 160,
    "data": {"values": [{}]},
    "resolve": {"axis": {"x": "independent", "y": "independent"}},
    "layer": [
     {"data": {"name": "C3"}, "mark": {"type": "line", "clip": true, "color": "black", "strokeWidth": 1},
      "encoding": {
       "x": {"field": "q", "type": "quantitative", "scale": {"domain": [-0.1, 2.62], "nice": false, "zero": false}, "axis": {"orient": "bottom", "values": [0,0.5,1,1.5,2,2.5], "format": ".1f", "tickSize": -6, "tickWidth": 1, "labelPadding": 12, "labelFont": "DejaVu Sans", "labelFontSize": 15, "domain": false, "title": "Q² (GeV²)", "titleFont": "Liberation Serif", "titleFontSize": 24, "titleFontWeight": "normal", "titlePadding": 14}},
       "y": {"field": "v", "type": "quantitative", "scale": {"domain": [0, 500], "nice": false, "zero": false}, "axis": {"orient": "left", "values": [0,100,200,300,400], "tickSize": -6, "tickWidth": 1, "labelPadding": 10, "labelFont": "DejaVu Sans", "labelFontSize": 15, "domain": false, "title": null}},
       "detail": {"field": "k", "type": "nominal"},
       "strokeDash": {"field": "k", "type": "nominal", "scale": {"domain": ["s","u","l"], "range": [[1,0],[5,3],[5,3]]}, "legend": null}}},
     {"data": {"name": "R3"}, "mark": {"type": "rule", "strokeWidth": 1.2},
      "encoding": {
       "x": {"field": "q", "type": "quantitative", "axis": {"orient": "bottom", "values": [0.1,0.2,0.3,0.4,0.6,0.7,0.8,0.9,1.1,1.2,1.3,1.4,1.6,1.7,1.8,1.9,2.1,2.2,2.3,2.4,2.6], "tickSize": -3, "tickWidth": 1, "labels": false, "domain": false, "title": null}},
       "y": {"field": "lo", "type": "quantitative", "axis": {"orient": "left", "values": [20,40,60,80,120,140,160,180,220,240,260,280,320,340,360,380,420,440,460,480], "tickSize": -3, "tickWidth": 1, "labels": false, "domain": false, "title": null}},
       "y2": {"field": "hi"},
       "color": {"field": "s", "type": "nominal", "scale": {"domain": ["r","b","k"], "range": ["#ee0000","#0000ff","#000000"]}, "legend": null}}},
     {"data": {"name": "R3"}, "mark": {"type": "tick", "orient": "horizontal", "size": 13, "thickness": 1.6},
      "encoding": {
       "x": {"field": "q", "type": "quantitative", "axis": {"orient": "top", "values": [0,0.5,1,1.5,2,2.5], "tickSize": -6, "tickWidth": 1, "labels": false, "domain": false, "title": null}},
       "y": {"field": "lo", "type": "quantitative", "axis": {"orient": "right", "values": [100,200,300,400], "tickSize": -4, "tickWidth": 1, "labels": false, "domain": false, "title": null}},
       "color": {"field": "s", "type": "nominal", "legend": null}}},
     {"data": {"name": "R3"}, "mark": {"type": "tick", "orient": "horizontal", "size": 13, "thickness": 1.6},
      "encoding": {
       "x": {"field": "q", "type": "quantitative", "axis": {"orient": "top", "values": [0.1,0.2,0.3,0.4,0.6,0.7,0.8,0.9,1.1,1.2,1.3,1.4,1.6,1.7,1.8,1.9,2.1,2.2,2.3,2.4,2.6], "tickSize": -3, "tickWidth": 1, "labels": false, "domain": false, "title": null}},
       "y": {"field": "hi", "type": "quantitative", "axis": null},
       "color": {"field": "s", "type": "nominal", "legend": null}}},
     {"data": {"name": "R3"}, "transform": [{"filter": "datum.s != 'b'"}], "mark": {"type": "square", "size": 30, "opacity": 1},
      "encoding": {"x": {"field": "q", "type": "quantitative", "axis": null}, "y": {"field": "v", "type": "quantitative", "axis": null}, "color": {"field": "s", "type": "nominal", "legend": null}}},
     {"data": {"name": "R3"}, "transform": [{"filter": "datum.s == 'b'"}], "mark": {"type": "point", "shape": "M-1,-1L1,1M-1,1L1,-1", "filled": false, "size": 30, "strokeWidth": 1.3, "opacity": 1},
      "encoding": {"x": {"field": "q", "type": "quantitative", "axis": null}, "y": {"field": "v", "type": "quantitative", "axis": null}, "color": {"field": "s", "type": "nominal", "legend": null}}},
     {"mark": {"type": "text", "align": "left", "baseline": "alphabetic", "font": "Liberation Serif", "fontSize": 17, "fontStyle": "italic"},
      "encoding": {"x": {"datum": 1.179, "type": "quantitative", "axis": null}, "y": {"datum": 424, "type": "quantitative", "axis": null}, "text": {"value": "W"}}},
     {"mark": {"type": "text", "align": "left", "baseline": "alphabetic", "font": "Liberation Serif", "fontSize": 17},
      "encoding": {"x": {"datum": 1.35, "type": "quantitative", "axis": null}, "y": {"datum": 424, "type": "quantitative", "axis": null}, "text": {"value": "="}}},
     {"mark": {"type": "text", "align": "left", "baseline": "alphabetic", "font": "DejaVu Sans", "fontSize": 17.5},
      "encoding": {"x": {"datum": 1.47, "type": "quantitative", "axis": null}, "y": {"datum": 424, "type": "quantitative", "axis": null}, "text": {"value": "1.95"}}},
     {"mark": {"type": "text", "align": "right", "baseline": "alphabetic", "font": "Liberation Serif", "fontSize": 17},
      "encoding": {"x": {"datum": 2.435, "type": "quantitative", "axis": null}, "y": {"datum": 424, "type": "quantitative", "axis": null}, "text": {"value": "GeV"}}},
     {"mark": {"type": "text", "align": "left", "baseline": "alphabetic", "font": "Liberation Serif", "fontSize": 17},
      "encoding": {"x": {"datum": 1.159, "type": "quantitative", "axis": null}, "y": {"datum": 351, "type": "quantitative", "axis": null}, "text": {"value": "cos"}}},
     {"mark": {"type": "text", "align": "left", "baseline": "alphabetic", "font": "Liberation Serif", "fontSize": 17, "fontStyle": "italic"},
      "encoding": {"x": {"datum": 1.45, "type": "quantitative", "axis": null}, "y": {"datum": 351, "type": "quantitative", "axis": null}, "text": {"value": "θ"}}},
     {"mark": {"type": "text", "align": "left", "baseline": "alphabetic", "font": "Liberation Serif", "fontSize": 11, "fontStyle": "italic"},
      "encoding": {"x": {"datum": 1.55, "type": "quantitative", "axis": null}, "y": {"datum": 340, "type": "quantitative", "axis": null}, "text": {"value": "K"}}},
     {"mark": {"type": "text", "align": "left", "baseline": "alphabetic", "font": "Liberation Serif", "fontSize": 14},
      "encoding": {"x": {"datum": 1.645, "type": "quantitative", "axis": null}, "y": {"datum": 368, "type": "quantitative", "axis": null}, "text": {"value": "*"}}},
     {"mark": {"type": "text", "align": "left", "baseline": "alphabetic", "font": "Liberation Serif", "fontSize": 17},
      "encoding": {"x": {"datum": 1.74, "type": "quantitative", "axis": null}, "y": {"datum": 351, "type": "quantitative", "axis": null}, "text": {"value": "="}}},
     {"mark": {"type": "text", "align": "left", "baseline": "alphabetic", "font": "DejaVu Sans", "fontSize": 17.5},
      "encoding": {"x": {"datum": 1.87, "type": "quantitative", "axis": null}, "y": {"datum": 351, "type": "quantitative", "axis": null}, "text": {"value": "0.90"}}}
    ]
   }
  ],
  "spacing": 2,
  "bounds": "flush"
 }
]
}
